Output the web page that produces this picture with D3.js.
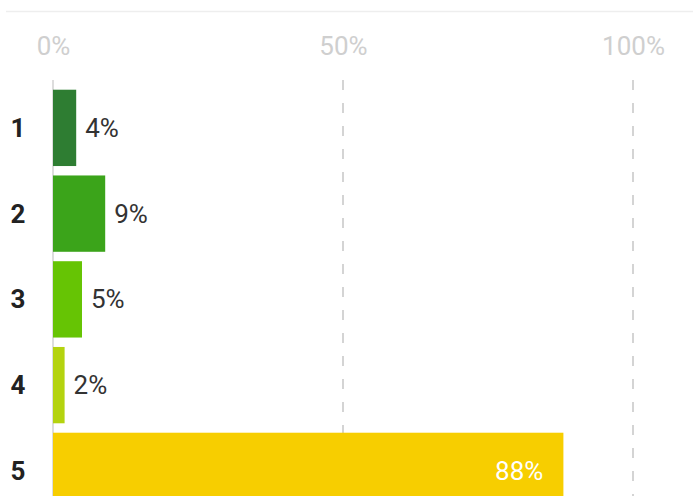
<!DOCTYPE html>
<html>
<head>
<meta charset="utf-8">
<script src="https://cdn.jsdelivr.net/npm/d3@7"></script>
<style>
  html, body { margin: 0; padding: 0; background: #fff; }
  svg { display: block; font-family: Roboto, "Noto Sans", sans-serif; }
</style>
</head>
<body>
<svg id="chart" width="693" height="496"></svg>
<script>
// Rating distribution: share of responses per star level
const categories = ["1", "2", "3", "4", "5"];
const shares = [4, 9, 5, 2, 88];
const barColors = ["#2e7d32", "#3ba41a", "#66c404", "#b4d30f", "#f7ce00"];
const tickValues = [0, 50, 100];

const W = 693, H = 496;
const svg = d3.select("#chart");

const x = d3.scaleLinear().domain([0, 100]).range([53, 633]);
const y = d3.scaleBand()
  .domain(categories)
  .range([85, 85 + 5 * 85.75])
  .paddingInner(0.11)
  .paddingOuter(0.055);

// Thin rule across the top
svg.append("line")
  .attr("x1", 6).attr("x2", W)
  .attr("y1", 11.5).attr("y2", 11.5)
  .attr("stroke", "#eeeeee").attr("stroke-width", 1.5);

// Percentage axis on top
const axis = svg.append("g")
  .attr("transform", "translate(0,55)")
  .call(d3.axisTop(x).tickValues(tickValues).tickFormat(d => d + "%").tickSize(0).tickPadding(0));
axis.select(".domain").remove();
axis.selectAll("text")
  .attr("fill", "#cfcfcf")
  .attr("font-size", 26)
  .attr("font-family", "Roboto, sans-serif");

// Gridlines: solid baseline at 0, dashed at the other ticks
svg.append("g").selectAll("line")
  .data(tickValues)
  .join("line")
  .attr("x1", d => x(d)).attr("x2", d => x(d))
  .attr("y1", 80).attr("y2", H)
  .attr("stroke", d => d === 0 ? "#dddddd" : "#d4d4d4")
  .attr("stroke-width", 2)
  .attr("stroke-dasharray", d => d === 0 ? null : "10,13");

// Bars
svg.append("g").selectAll("rect")
  .data(categories)
  .join("rect")
  .attr("x", x(0))
  .attr("y", d => y(d))
  .attr("width", (d, i) => x(shares[i]) - x(0))
  .attr("height", y.bandwidth())
  .attr("fill", (d, i) => barColors[i]);

// Category labels
svg.append("g").selectAll("text")
  .data(categories)
  .join("text")
  .attr("x", 18)
  .attr("y", d => y(d) + y.bandwidth() / 2)
  .attr("dy", "0.35em")
  .attr("text-anchor", "middle")
  .attr("font-size", 26)
  .attr("font-weight", "bold")
  .attr("fill", "#222")
  .text(d => d);

// Value labels: outside short bars, inside long ones
svg.append("g").selectAll("text")
  .data(categories)
  .join("text")
  .each(function (d, i) {
    const inside = shares[i] > 50;
    d3.select(this)
      .attr("x", inside ? x(shares[i]) - 20 : x(shares[i]) + 9)
      .attr("text-anchor", inside ? "end" : "start")
      .attr("fill", inside ? "#ffffff" : "#333333");
  })
  .attr("y", d => y(d) + y.bandwidth() / 2)
  .attr("dy", "0.35em")
  .attr("font-size", 26)
  .text((d, i) => shares[i] + "%");
</script>
</body>
</html>
